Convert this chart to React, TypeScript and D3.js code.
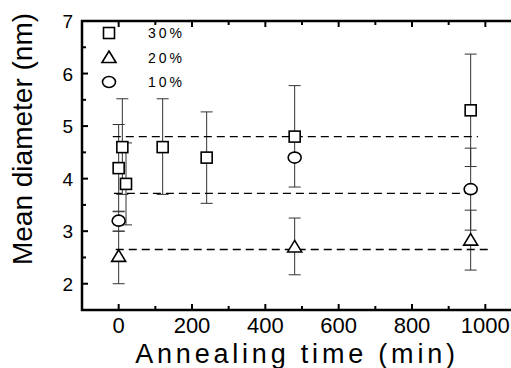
import React from 'react';
import * as d3 from 'd3';

// Annealing time (min) and mean diameter (nm) for each concentration
const times30 = [0, 10, 20, 120, 240, 480, 960];
const diam30 = [4.2, 4.6, 3.9, 4.6, 4.4, 4.8, 5.3];
const lo30 = [3.37, 3.7, 3.12, 3.7, 3.53, 3.84, 4.23];
const hi30 = [5.03, 5.52, 4.68, 5.52, 5.27, 5.77, 6.37];

const times20 = [0, 480, 960];
const diam20 = [2.52, 2.7, 2.83];
const lo20 = [2.0, 2.17, 2.26];
const hi20 = [3.0, 3.25, 3.4];

const times10 = [0, 480, 960];
const diam10 = [3.2, 4.4, 3.8];
const lo10 = [3.0, 4.4, 3.02];
const hi10 = [3.38, 4.4, 4.58];

// dashed guide levels and their x extents
const guideLevels = [4.8, 3.72, 2.65];
const guideStart = [-16, -13, -8];
const guideEnd = [980, 958, 1010];

const xTicks = [0, 200, 400, 600, 800, 1000];
const xMinor = [-100, 100, 300, 500, 700, 900, 1100];
const yTicks = [2, 3, 4, 5, 6, 7];
const yMinor = [1.5, 2.5, 3.5, 4.5, 5.5, 6.5];

const legendLabels = ['30%', '20%', '10%'];

const W = 511;
const H = 368;

export default function App() {
  const x = d3.scaleLinear().domain([-100, 1100]).range([82, 522]);
  const y = d3.scaleLinear().domain([1.5, 7]).range([310, 21]);

  const font = 'Arial, "Liberation Sans", sans-serif';

  const square = (cx: number, cy: number, key: string) => (
    <rect key={key} x={cx - 5.5} y={cy - 5.5} width={11} height={11} fill="#fff" stroke="#000" strokeWidth={1.6} />
  );
  const triangle = (cx: number, cy: number, key: string) => {
    const p = d3.path();
    p.moveTo(cx, cy - 6.5);
    p.lineTo(cx + 7, cy + 5);
    p.lineTo(cx - 7, cy + 5);
    p.closePath();
    return <path key={key} d={p.toString()} fill="#fff" stroke="#000" strokeWidth={1.6} />;
  };
  const circle = (cx: number, cy: number, key: string) => (
    <ellipse key={key} cx={cx} cy={cy} rx={6.5} ry={5.5} fill="#fff" stroke="#000" strokeWidth={1.6} />
  );

  const errBar = (t: number, lo: number, hi: number, key: string) => {
    if (lo === hi) return null;
    const cx = x(t);
    return (
      <g key={key} stroke="#333" strokeWidth={1}>
        <line x1={cx} x2={cx} y1={y(lo)} y2={y(hi)} />
        <line x1={cx - 6} x2={cx + 6} y1={y(lo)} y2={y(lo)} />
        <line x1={cx - 6} x2={cx + 6} y1={y(hi)} y2={y(hi)} />
      </g>
    );
  };

  const series = [
    { t: times30, v: diam30, lo: lo30, hi: hi30, mark: square },
    { t: times20, v: diam20, lo: lo20, hi: hi20, mark: triangle },
    { t: times10, v: diam10, lo: lo10, hi: hi10, mark: circle },
  ];

  const [x0, x1] = x.range();
  const [yb, yt] = y.range();

  return (
    <svg width={W} height={H} style={{ position: 'absolute', left: 0, top: 0, background: '#fff' }}>
      {/* error bars */}
      {series.map((s, si) =>
        s.t.map((t, i) => errBar(t, s.lo[i], s.hi[i], `e${si}-${i}`))
      )}

      {/* dashed guides */}
      {guideLevels.map((g, i) => (
        <line key={`g${i}`} x1={x(guideStart[i])} x2={x(guideEnd[i])} y1={y(g)} y2={y(g)}
          stroke="#000" strokeWidth={1.4} strokeDasharray="8,5" />
      ))}

      {/* markers */}
      {series.map((s, si) => s.t.map((t, i) => s.mark(x(t), y(s.v[i]), `m${si}-${i}`)))}

      {/* frame */}
      <path d={`M${x1},${yt}H${x0}V${yb}H${x1}`} fill="none" stroke="#000" strokeWidth={2.5} />

      {/* x ticks */}
      {xTicks.map(t => (
        <g key={`xt${t}`}>
          <line x1={x(t)} x2={x(t)} y1={yb} y2={yb - 6} stroke="#000" strokeWidth={2} />
          <line x1={x(t)} x2={x(t)} y1={yt} y2={yt + 6} stroke="#000" strokeWidth={2} />
          <text x={x(t)} y={333} textAnchor="middle" fontFamily={font} fontSize={22}>{t}</text>
        </g>
      ))}
      {xMinor.map(t => (
        <g key={`xm${t}`}>
          <line x1={x(t)} x2={x(t)} y1={yb} y2={yb - 4} stroke="#000" strokeWidth={2} />
          <line x1={x(t)} x2={x(t)} y1={yt} y2={yt + 4} stroke="#000" strokeWidth={2} />
        </g>
      ))}

      {/* y ticks */}
      {yTicks.map(t => (
        <g key={`yt${t}`}>
          <line x1={x0} x2={x0 + 6} y1={y(t)} y2={y(t)} stroke="#000" strokeWidth={2} />
          <text x={73} y={y(t) + 7} textAnchor="end" fontFamily={font} fontSize={19}>{t}</text>
        </g>
      ))}
      {yMinor.map(t => (
        <line key={`ym${t}`} x1={x0} x2={x0 + 4} y1={y(t)} y2={y(t)} stroke="#000" strokeWidth={2} />
      ))}

      {/* legend */}
      {legendLabels.map((lab, i) => {
        const ly = 33 + i * 24.5;
        return (
          <g key={lab}>
            {series[i].mark(109, ly, `l${i}`)}
            <text x={148} y={ly + 5} fontFamily={font} fontSize={14} letterSpacing={3}>{lab}</text>
          </g>
        );
      })}

      {/* axis titles */}
      <text x={297} y={363} textAnchor="middle" fontFamily={font} fontSize={27} letterSpacing={3.8}>
        Annealing time (min)
      </text>
      <text transform={`translate(32,139) rotate(-90)`} textAnchor="middle" fontFamily={font} fontSize={28}>
        Mean diameter (nm)
      </text>
    </svg>
  );
}
